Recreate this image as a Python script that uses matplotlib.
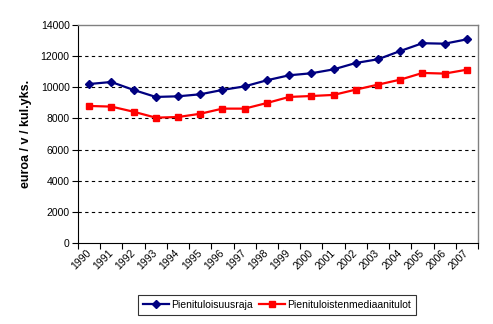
import matplotlib
matplotlib.use("Agg")
import matplotlib.pyplot as plt
import matplotlib.transforms as mtransforms
import numpy as np

plt.rcParams['font.family'] = ['Liberation Sans', 'DejaVu Sans']

years = ["1990", "1991", "1992", "1993", "1994", "1995", "1996", "1997", "1998",
         "1999", "2000", "2001", "2002", "2003", "2004", "2005", "2006", "2007"]
raja = [10210, 10340, 9830, 9380, 9420, 9550, 9830, 10060, 10450,
        10770, 10900, 11150, 11560, 11800, 12330, 12830, 12800, 13080]
mediaani = [8800, 8760, 8430, 8050, 8090, 8300, 8630, 8630, 8990,
            9380, 9440, 9510, 9850, 10170, 10490, 10920, 10880, 11130]
yticks = [0, 2000, 4000, 6000, 8000, 10000, 12000, 14000]

fig = plt.figure(figsize=(4.93, 3.24), dpi=100)
ax = fig.add_axes([78 / 493, 81 / 324, 400 / 493, 218 / 324])

x = np.arange(len(years))
ax.plot(x, raja, color='#000080', lw=1.6, marker='D', ms=4,
        label='Pienituloisuusraja', zorder=3)
ax.plot(x, mediaani, color='#FF0000', lw=1.6, marker='s', ms=5,
        label='Pienituloistenmediaanitulot', zorder=3)

ax.set_xlim(-0.5, len(years) - 0.5)
ax.set_ylim(0, 14000)
ax.set_yticks(yticks)
ax.set_yticklabels([str(v) for v in yticks], fontsize=7.5)
for v in yticks[1:-1]:
    ax.axhline(v, color='black', lw=0.8, ls=(0, (3, 3)), zorder=1)

# category boundaries carry the tick marks, labels sit at category centres
ax.set_xticks(np.arange(len(years) + 1) - 0.5)
ax.set_xticklabels([])
ax.set_xticks(x, minor=True)
ax.set_xticklabels(years, minor=True, rotation=45, ha='right', va='center',
                   fontsize=7.5, rotation_mode='anchor')
shift = mtransforms.ScaledTranslation(-4 / 100, -4 / 100, fig.dpi_scale_trans)
for lbl in ax.get_xticklabels(minor=True):
    lbl.set_transform(lbl.get_transform() + shift)
ax.tick_params(axis='x', which='minor', length=0, pad=6)
ax.tick_params(axis='x', which='major', length=4, direction='out', width=0.8)
ax.tick_params(axis='y', length=4, direction='out', width=0.8, pad=2)

for s in ['top', 'right']:
    ax.spines[s].set_color('#808080')
    ax.spines[s].set_linewidth(1)
for s in ['left', 'bottom']:
    ax.spines[s].set_color('black')
    ax.spines[s].set_linewidth(0.8)

ax.set_ylabel('euroa / v / kul.yks.', fontsize=9, fontweight='bold', labelpad=6)

leg = fig.legend(loc='center', bbox_to_anchor=(277 / 493, 1 - 305 / 324),
                 ncol=2, fontsize=7.5, frameon=True, fancybox=False,
                 edgecolor='black', handlelength=2.5, columnspacing=0.6,
                 handletextpad=0.2, borderpad=0.5)
leg.get_frame().set_linewidth(0.8)

fig.savefig('out.png', dpi=100)
